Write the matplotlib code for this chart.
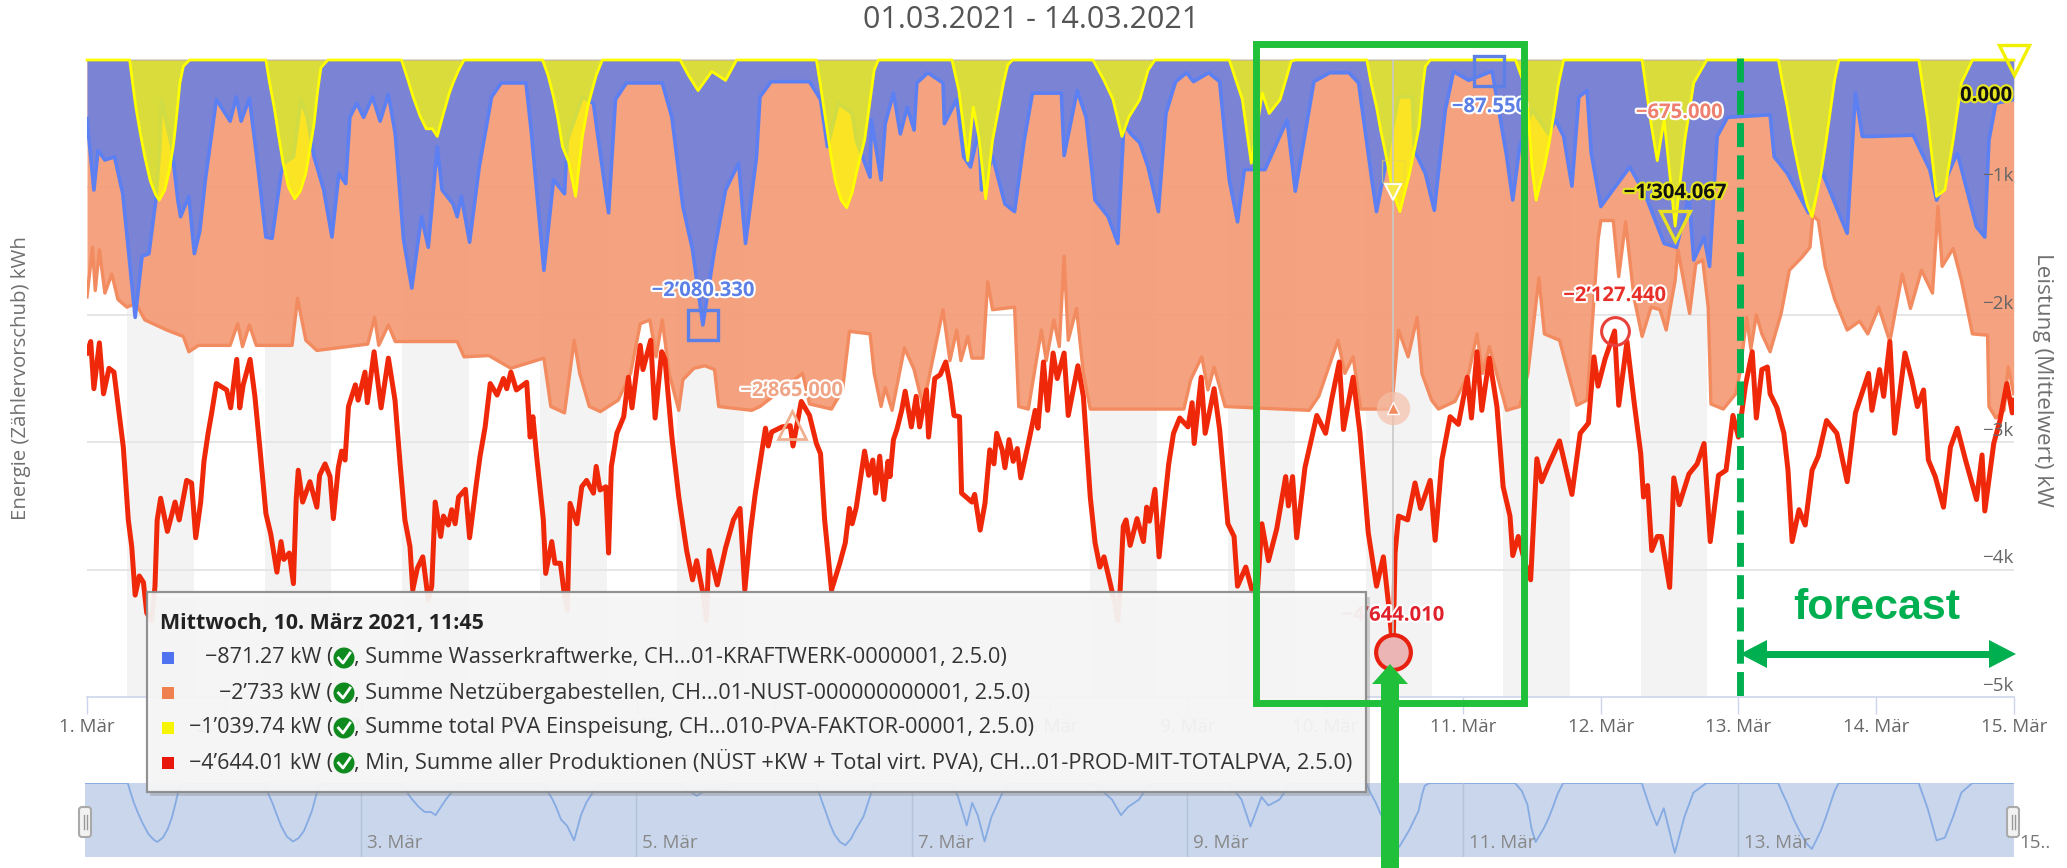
import numpy as np
import matplotlib
matplotlib.use("Agg")
import matplotlib.pyplot as plt
from matplotlib.patches import Rectangle, FancyBboxPatch, Circle, Polygon
import matplotlib.patheffects as pe

W, H = 2067, 868
FONT = "Open Sans"
plt.rcParams["font.family"] = [FONT, "DejaVu Sans"]

# ---------- data (days since 1 March, magnitudes in thousands of kW; plotted negative) ----------
red_days = [0,.027,.05,.09,.12,.16,.196,.228,.264,.30,.325,.35,.38,.41,.434,.47,.494,.51,.535,.584,.64,.67,.724,.76,.79,.826,.85,.88,.906,.94,1.015,1.044,1.088,1.11,1.135,1.185,1.22,1.26,1.30,1.335,1.38,1.41,1.43,1.47,1.50,1.52,1.535,1.567,1.62,1.67,1.69,1.73,1.766,1.79,1.826,1.85,1.875,1.90,1.95,1.97,2.02,2.037,2.086,2.137,2.19,2.238,2.275,2.31,2.347,2.367,2.40,2.44,2.48,2.505,2.53,2.57,2.59,2.625,2.65,2.675,2.70,2.75,2.78,2.83,2.856,2.893,2.93,2.98,3.026,3.05,3.08,3.12,3.195,3.22,3.24,3.27,3.316,3.333,3.377,3.40,3.44,3.47,3.49,3.51,3.56,3.595,3.63,3.68,3.70,3.728,3.77,3.79,3.81,3.85,3.90,3.934,3.96,3.995,4.02,4.04,4.096,4.128,4.176,4.20,4.25,4.30,4.357,4.40,4.43,4.48,4.50,4.52,4.58,4.64,4.697,4.745,4.78,4.82,4.855,4.93,4.95,4.975,5.05,5.11,5.13,5.19,5.25,5.30,5.33,5.36,5.41,5.47,5.51,5.54,5.56,5.59,5.65,5.68,5.71,5.73,5.76,5.79,5.82,5.835,5.86,5.885,5.92,5.945,5.99,6.025,6.05,6.10,6.115,6.16,6.20,6.24,6.27,6.30,6.34,6.355,6.43,6.45,6.49,6.525,6.56,6.59,6.61,6.65,6.67,6.70,6.73,6.76,6.785,6.84,6.89,6.91,6.95,6.98,7.02,7.05,7.10,7.13,7.20,7.24,7.29,7.325,7.36,7.39,7.435,7.47,7.49,7.507,7.53,7.55,7.58,7.63,7.676,7.70,7.72,7.76,7.79,7.82,7.86,7.895,7.94,8.00,8.03,8.045,8.096,8.125,8.19,8.23,8.29,8.335,8.36,8.42,8.465,8.50,8.537,8.585,8.645,8.71,8.73,8.76,8.79,8.85,8.90,8.936,9.00,9.045,9.10,9.13,9.20,9.25,9.31,9.37,9.42,9.46,9.49,9.505,9.53,9.596,9.65,9.69,9.76,9.796,9.845,9.905,9.965,10.03,10.06,10.10,10.135,10.19,10.245,10.29,10.34,10.36,10.40,10.45,10.49,10.535,10.57,10.62,10.70,10.79,10.85,10.91,10.95,10.98,11.03,11.10,11.13,11.19,11.24,11.29,11.31,11.34,11.37,11.41,11.44,11.50,11.53,11.57,11.64,11.70,11.75,11.795,11.855,11.91,11.96,12.00,12.05,12.10,12.13,12.17,12.21,12.23,12.28,12.33,12.36,12.39,12.44,12.485,12.535,12.58,12.64,12.715,12.79,12.85,12.945,12.97,13.025,13.055,13.10,13.135,13.21,13.26,13.30,13.345,13.38,13.43,13.49,13.54,13.59,13.65,13.73,13.77,13.79,13.855,13.90,13.95,13.99,14.0]
red_k = [2.30,2.21,2.58,2.22,2.62,2.42,2.45,2.73,3.04,3.61,3.82,4.20,4.05,4.10,4.34,4.40,4.13,3.61,3.44,3.70,3.47,3.61,3.30,3.32,3.75,3.47,3.15,2.93,2.77,2.54,2.59,2.73,2.35,2.73,2.55,2.35,2.64,3.09,3.56,3.72,4.02,3.78,3.92,3.87,4.11,3.45,3.22,3.47,3.31,3.51,3.26,3.17,3.27,3.60,3.20,3.07,3.14,2.72,2.55,2.67,2.45,2.69,2.29,2.73,2.34,2.67,3.17,3.61,3.82,4.16,3.99,3.90,4.24,4.13,3.47,3.74,3.58,3.65,3.53,3.64,3.43,3.37,3.75,3.32,3.11,2.88,2.54,2.63,2.50,2.58,2.45,2.59,2.53,2.96,2.80,3.14,3.61,4.03,3.78,3.95,3.95,4.21,4.32,3.48,3.64,3.35,3.30,3.40,3.19,3.375,3.35,3.87,3.19,2.93,2.80,2.49,2.73,2.43,2.24,2.43,2.20,2.81,2.29,2.35,2.96,3.43,3.85,4.08,3.93,4.21,4.40,3.85,4.12,3.83,3.61,3.52,4.16,3.71,3.41,2.89,3.03,2.92,2.88,2.87,3.03,2.68,2.79,3.01,3.09,3.61,4.16,3.95,3.79,3.52,3.64,3.51,3.07,3.26,3.14,3.40,3.11,3.45,3.15,3.27,2.98,2.90,2.75,2.60,2.88,2.64,2.88,2.59,2.96,2.50,2.47,2.37,2.54,2.79,2.80,3.40,3.47,3.41,3.69,3.48,3.06,3.17,2.93,3.06,3.20,2.98,3.15,3.05,3.28,3.01,2.75,2.89,2.37,2.75,2.30,2.50,2.30,2.79,2.40,2.64,3.43,3.79,3.98,3.90,4.11,4.27,4.40,4.16,3.66,3.61,3.81,3.60,3.78,3.51,3.62,3.37,3.90,3.58,3.17,2.93,2.81,2.88,2.69,3.01,2.49,2.93,2.58,2.90,3.64,3.74,4.13,3.98,4.16,4.25,3.64,3.93,3.68,3.27,3.50,3.27,3.75,3.20,2.96,2.79,2.93,2.66,2.37,2.90,2.49,2.93,3.71,4.13,3.90,4.30,4.644,3.87,3.58,3.61,3.32,3.52,3.30,3.77,3.14,2.80,2.86,2.49,2.81,2.29,2.75,2.34,2.72,3.35,3.58,3.89,3.74,3.95,4.08,3.13,3.31,3.18,2.99,3.41,2.93,2.85,2.33,2.56,2.35,2.127,2.71,2.21,2.67,3.09,3.43,3.34,3.85,3.74,3.74,4.14,3.28,3.49,3.25,3.17,3.01,3.78,3.26,3.22,2.79,2.96,2.56,2.29,2.81,2.43,2.41,2.62,2.73,2.93,3.22,3.78,3.53,3.65,3.22,3.11,2.83,2.93,3.31,2.77,2.46,2.75,2.43,2.64,2.21,2.93,2.30,2.51,2.72,2.59,3.14,3.27,3.51,3.04,2.89,3.14,3.45,3.10,3.54,3.01,2.83,2.54,2.77,2.67]

orange_days = [0,.04,.06,.09,.13,.18,.225,.29,.355,.42,.58,.70,.74,.81,1.04,1.095,1.13,1.18,1.23,1.49,1.53,1.59,1.67,2.04,2.09,2.12,2.19,2.24,2.69,2.74,2.92,3.08,3.32,3.37,3.47,3.54,3.58,3.65,3.73,3.86,3.95,4.02,4.09,4.135,4.18,4.23,4.30,4.33,4.41,4.49,4.56,4.59,4.83,4.89,5.20,5.25,5.41,5.49,5.54,5.69,5.72,5.77,5.80,5.85,5.94,6.01,6.075,6.22,6.27,6.32,6.35,6.40,6.43,6.51,6.545,6.58,6.74,6.77,6.84,6.935,6.97,7.025,7.065,7.10,7.13,7.19,7.24,7.29,7.97,8.02,8.10,8.145,8.19,8.27,8.88,8.95,9.09,9.14,9.20,9.255,9.48,9.53,9.60,9.665,9.70,9.77,9.82,9.94,10.04,10.10,10.14,10.19,10.315,10.41,10.47,10.55,10.59,10.70,10.825,10.90,10.98,11.0,11.09,11.13,11.18,11.24,11.30,11.365,11.43,11.475,11.54,11.56,11.645,11.69,11.74,11.78,11.80,11.89,11.98,12.01,12.06,12.09,12.13,12.17,12.23,12.31,12.37,12.46,12.52,12.54,12.58,12.63,12.70,12.79,12.88,12.94,13.02,13.10,13.19,13.25,13.33,13.41,13.45,13.48,13.56,13.62,13.70,13.81,13.82,13.87,13.93,13.96,14.0]
orange_k = [1.86,1.47,1.81,1.49,1.83,1.68,1.88,1.94,1.91,2.04,2.12,2.17,2.29,2.24,2.24,2.07,2.25,2.08,2.24,2.24,1.87,2.20,2.28,2.23,2.02,2.24,2.08,2.21,2.21,2.33,2.32,2.42,2.34,2.72,2.77,2.20,2.46,2.72,2.76,2.67,2.46,2.07,2.04,2.33,2.04,2.46,2.75,2.51,2.42,2.40,2.43,2.72,2.75,2.72,2.46,2.70,2.74,2.59,2.13,2.15,2.46,2.72,2.57,2.75,2.26,2.43,2.72,1.96,2.36,2.12,2.36,2.17,2.34,2.34,1.74,1.96,1.94,2.72,2.74,2.12,2.36,2.04,2.25,1.54,2.20,1.95,2.46,2.74,2.74,2.51,2.33,2.59,2.41,2.72,2.75,2.64,2.20,2.46,2.33,2.74,2.74,2.12,2.33,2.02,2.46,2.67,2.74,2.68,2.46,2.15,2.46,2.25,2.75,2.72,2.46,1.71,2.15,2.20,2.71,2.67,1.41,1.26,1.26,1.70,1.27,1.86,2.17,1.94,1.96,2.12,1.73,1.49,1.99,1.60,1.57,1.94,2.70,2.74,2.62,2.46,2.02,2.27,2.00,2.15,2.29,1.99,1.65,1.55,1.47,1.22,1.26,1.62,1.88,2.12,2.05,2.15,1.94,2.21,1.68,1.95,1.65,1.83,1.15,1.62,1.48,1.73,2.15,2.16,2.72,2.81,2.75,2.41,2.62]

blue_days = [0,.05,.08,.13,.20,.26,.35,.40,.45,.50,.53,.54,.615,.66,.68,.74,.78,.82,.86,.94,1.04,1.085,1.12,1.18,1.23,1.30,1.345,1.41,1.43,1.50,1.555,1.60,1.65,1.72,1.78,1.83,1.88,1.91,1.96,2.01,2.075,2.13,2.19,2.24,2.30,2.36,2.43,2.48,2.545,2.58,2.66,2.69,2.72,2.78,2.85,2.94,3.01,3.19,3.23,3.32,3.39,3.47,3.49,3.60,3.68,3.71,3.79,3.84,3.92,4.18,4.25,4.33,4.40,4.475,4.56,4.64,4.735,4.785,4.865,4.89,4.97,5.25,5.33,5.38,5.46,5.56,5.59,5.69,5.70,5.77,5.80,5.86,5.91,5.96,6.01,6.03,6.11,6.22,6.23,6.32,6.37,6.42,6.48,6.50,6.58,6.67,6.74,6.81,6.87,7.08,7.10,7.195,7.26,7.325,7.42,7.49,7.535,7.585,7.65,7.71,7.785,7.84,7.91,7.99,8.04,8.15,8.23,8.30,8.36,8.41,8.56,8.72,8.78,8.915,9.03,9.17,9.24,9.34,9.37,9.53,9.63,9.645,9.725,9.79,9.87,9.93,10.04,10.21,10.315,10.36,10.41,10.50,10.62,10.67,10.73,10.79,10.84,10.90,10.93,11.0,11.21,11.32,11.46,11.55,11.64,11.675,11.75,11.79,11.845,11.92,12.23,12.26,12.355,12.51,12.60,12.79,12.85,12.90,12.97,13.27,13.39,13.44,13.59,13.73,13.79,13.82,13.87,14.0]
blue_k = [.46,1.02,.71,.785,.76,1.05,2.02,1.54,1.52,1.10,.68,.31,.68,1.10,1.23,1.07,1.52,1.34,.94,.31,.48,.29,.48,.30,.73,1.39,1.40,.89,.81,.76,.31,.45,.76,1.02,1.39,.89,.97,.45,.34,.45,.29,.48,.27,.58,1.41,1.79,1.23,1.47,.68,1.02,1.13,1.23,1.07,1.43,.84,.29,.18,.18,.58,1.65,.94,1.05,.63,.29,.34,.58,1.20,.31,.18,.18,.45,1.15,1.49,2.08,1.49,1.02,.81,1.44,.76,.29,.17,.17,.31,.68,.34,.42,.63,.92,.47,.94,.50,.26,.58,.37,.55,.18,.10,.18,.50,.31,.76,.84,.55,1.02,.76,1.13,1.19,.63,.26,.26,.75,.24,.45,1.10,1.23,1.44,.50,.58,.65,.84,1.19,.42,.17,.10,.17,.10,.17,.94,1.27,.86,.86,.47,1.03,.17,.10,.10,.18,.97,1.19,.29,.29,.71,.89,1.18,.39,.09,.16,.0875,.75,1.10,.68,.39,.58,.47,.60,.99,.29,.24,.73,1.15,.84,1.05,1.44,1.47,1.07,1.57,1.39,1.62,.60,.45,.43,.76,.89,1.20,.86,1.36,.26,.60,.60,.59,.86,1.10,.73,1.31,1.39,.63,.34,.31]

yellow_days = [0,.31,.33,.355,.388,.42,.46,.50,.525,.565,.60,.63,.655,.675,.70,.745,
               1.30,1.325,1.36,1.39,1.425,1.465,1.51,1.55,1.59,1.62,1.65,1.675,1.70,1.75,
               2.285,2.33,2.37,2.42,2.465,2.51,2.545,2.57,2.59,2.63,2.66,2.70,2.74,
               3.31,3.35,3.39,3.42,3.455,3.50,3.55,3.60,3.64,3.665,3.70,3.745,
               4.31,4.37,4.44,4.54,4.64,4.72,
               5.30,5.33,5.38,5.41,5.44,5.48,5.52,5.56,5.59,5.62,5.65,5.69,5.72,5.75,
               6.285,6.335,6.40,6.44,6.48,6.53,6.58,6.66,6.69,6.725,
               7.31,7.39,7.455,7.52,7.57,7.65,7.71,7.76,
               8.30,8.395,8.46,8.54,8.59,8.67,8.75,8.78,
               9.30,9.33,9.37,9.40,9.435,9.49,9.54,9.58,9.61,9.65,9.68,9.705,9.725,9.76,
               10.38,10.43,10.47,10.50,10.53,10.59,10.625,10.655,10.69,10.73,
               11.30,11.365,11.41,11.46,11.54,11.61,11.675,11.77,
               12.29,12.32,12.355,12.40,12.45,12.50,12.535,12.57,12.60,12.635,12.665,12.70,12.73,
               13.31,13.375,13.44,13.50,13.56,13.62,13.70,14.0]
yellow_k = [0,0,.17,.37,.58,.76,.95,1.06,1.10,1.02,.86,.65,.40,.18,.05,0,
            0,.17,.37,.58,.81,1.0,1.09,1.03,.89,.70,.50,.25,.06,0,
            0,.15,.29,.44,.54,.54,.60,.50,.42,.27,.18,.08,0,
            0,.12,.29,.45,.68,.80,1.07,.60,.36,.26,.12,0,
            0,.12,.24,.09,.16,0,
            0,.2,.56,.78,.96,1.10,1.16,1.04,.89,.76,.63,.32,.08,0,
            0,.24,.79,.37,.60,1.09,.63,.18,.04,0,
            0,.16,.31,.60,.45,.31,.08,0,
            0,.31,.81,.26,.42,.31,.01,0,
            0,.18,.37,.55,.73,1.04,1.19,1.02,.89,.68,.52,.22,.05,0,
            0,.15,.40,.85,1.10,.84,.65,.45,.2,0,
            0,.50,.79,.47,1.304,.63,.18,0,
            0,.18,.37,.66,.92,1.14,1.23,1.05,.89,.65,.42,.15,0,
            0,.47,1.07,1.02,.63,.18,0,0]

band_days = [0, 1, 2, 3, 4, 7, 8, 9, 10, 11]
x_tick_labels = ["1. Mär","2. Mär","3. Mär","4. Mär","5. Mär","6. Mär","7. Mär","8. Mär","9. Mär","10. Mär","11. Mär","12. Mär","13. Mär","14. Mär","15. Mär"]
nav_labels = {2:"3. Mär",4:"5. Mär",6:"7. Mär",8:"9. Mär",10:"11. Mär",12:"13. Mär",14:"15.."}
y_labels = {1:"−1k",2:"−2k",3:"−3k",4:"−4k",5:"−5k"}
tooltip_title = "Mittwoch, 10. März 2021, 11:45"
tooltip_vals = ["−871.27 kW (","−2’733 kW (","−1’039.74 kW (","−4’644.01 kW ("]
tooltip_names = [", Summe Wasserkraftwerke, CH...01-KRAFTWERK-0000001, 2.5.0)",
                 ", Summe Netzübergabestellen, CH...01-NUST-000000000001, 2.5.0)",
                 ", Summe total PVA Einspeisung, CH...010-PVA-FAKTOR-00001, 2.5.0)",
                 ", Min, Summe aller Produktionen (NÜST +KW + Total virt. PVA), CH...01-PROD-MIT-TOTALPVA, 2.5.0)"]
tooltip_colors = ["#4E72F0","#F08050","#F5F500","#E8170C"]

neg = lambda s: -np.array(s, dtype=float)
C_BLUE, C_ORANGE, C_RED, C_YEL = "#5C80F2", "#F38B60", "#F0280A", "#FFFF00"
C_GREEN, C_DGREEN = "#20C03A", "#00B050"

fig = plt.figure(figsize=(W/100, H/100), dpi=100, facecolor="white")
L, R, T, B = 87.0, 2013.7, 60.0, 697.0
ax = fig.add_axes([L/W, (H-B)/H, (R-L)/W, (B-T)/H], zorder=2)
ax.set_xlim(0, 14); ax.set_ylim(-5, 0)
ax.set_facecolor("none")
for s in ["top", "left", "right"]:
    ax.spines[s].set_visible(False)
ax.spines["bottom"].set_color("#CCD6EB"); ax.spines["bottom"].set_linewidth(1.2)

for d in band_days:
    ax.axvspan(d+.29, d+.775, color="#F3F3F3", lw=0, zorder=0)
for v in range(1, 5):
    ax.axhline(-v, color="#E6E6E6", lw=1.4, zorder=0.5)
ax.axhline(0, color="#D8D8D8", lw=2, zorder=0.5, clip_on=False)

ax.fill_between(orange_days, 0, neg(orange_k), color="#F49A74", alpha=.92, lw=0, zorder=1)
ax.plot(orange_days, neg(orange_k), color=C_ORANGE, lw=2.4, zorder=1.1)
ax.fill_between(blue_days, 0, neg(blue_k), color="#7B83D5", lw=0, zorder=1.2)
ax.plot(blue_days, neg(blue_k), color=C_BLUE, lw=2.6, zorder=1.3)
ax.fill_between(yellow_days, 0, neg(yellow_k), color=C_YEL, alpha=.72, lw=0, zorder=1.4)
ax.plot(yellow_days, neg(yellow_k), color=C_YEL, lw=2.0, zorder=1.5, clip_on=False)
ax.plot(red_days, neg(red_k), color=C_RED, lw=3.6, zorder=2, solid_joinstyle="round")

ax.set_xticks(range(15)); ax.set_xticklabels(x_tick_labels)
ax.tick_params(axis="x", length=12, width=1, color="#CCD6EB", labelcolor="#666666", labelsize=13.5, pad=3)
ax.set_yticks([])
for v, t in y_labels.items():
    ax.annotate(t, (14, -v), xytext=(0, 8), textcoords="offset points", ha="right", va="center",
                color="#666666", fontsize=13.5, zorder=3)

# highlight flags
def halo(col, lw=3):
    return [pe.withStroke(linewidth=lw, foreground=col)]
ms = dict(ls="none", clip_on=False, zorder=4)
ax.plot([4.477], [-2.08033], marker="s", ms=21, mfc="none", mec="#5C80E6", mew=2.4, **ms)
ax.plot([10.19], [-.08755], marker="s", ms=21, mfc="none", mec="#5C80E6", mew=2.4, **ms)
ax.plot([5.12], [-2.865], marker="^", ms=20, mfc="none", mec="#F0B090", mew=2, **ms)
ax.plot([11.1], [-2.12744], marker="o", ms=20, mfc="none", mec="#E8403A", mew=2.2, **ms)
ax.plot([11.54], [-1.304067], marker="v", ms=22, mfc="none", mec="#E8E020", mew=2.4, **ms)
ax.plot([14], [0], marker="v", ms=22, mfc="none", mec="#F0F000", mew=2.4, **ms)
ax.axvline(9.49, color="#C8C8C8", lw=1.2, zorder=2.5)
ax.plot([9.49], [-2.733], marker="o", ms=24, mfc="#F5BFA8", mec="none", alpha=.7, **ms)
ax.plot([9.49], [-2.733], marker="^", ms=8, mfc="#F38B60", mec="white", mew=1, **ms)
ax.plot([9.49], [-1.03974], marker="v", ms=11, mfc="#F5E84A", mec="white", mew=1.5, **ms)
ax.plot([9.49], [-.87127], marker="s", ms=16, mfc="none", mec="#E8D850", mew=1, alpha=.6, **ms)
ax.plot([9.49], [-4.64401], marker="o", ms=25, mfc="#EBB5B5", mec="#E8200F", mew=3, **ms)

def flag(d, v, dy, txt, col, hc="white", fs=14.6):
    ax.annotate(txt, (d, v), xytext=(0, dy), textcoords="offset pixels", ha="center", va="center",
                color=col, fontsize=fs, fontweight="bold", zorder=5, annotation_clip=False,
                path_effects=halo(hc))
flag(4.477, -2.08033, 34, "−2’080.330", "#5C80E6")
flag(10.19, -.08755, -36, "−87.550", "#5C80E6")
flag(5.12, -2.865, 34, "−2’865.000", "#EFA688")
flag(11.1, -2.12744, 35, "−2’127.440", "#E8302A")
flag(11.54, -1.304067, 33, "−1’304.067", "#111111", "#E6E620")
flag(11.57, -.675, 33, "−675.000", "#EE8070")
flag(13.8, 0, -36, "0.000", "#111111", "#E6E620")
flag(9.49, -4.64401, 36, "−4’644.010", "#E0202A")

# axis titles
fig.text(21/W, 1-378/H, "Energie (Zählervorschub) kWh", rotation=90, ha="center", va="center",
         color="#707070", fontsize=14.7)
fig.text(2042/W, 1-380/H, "Leistung (Mittelwert) kW", rotation=270, ha="center", va="center",
         color="#707070", fontsize=16.2)
fig.text(1031/W, 1-20/H, "01.03.2021 - 14.03.2021", ha="center", va="center", color="#555555", fontsize=22)

# navigator
nav = fig.add_axes([85/W, (H-857)/H, (R-85)/W, 74/H], zorder=1)
nav.set_xlim(0, 14); nav.set_ylim(-1.38, 0)
nav.set_facecolor("#C9D6EC")
for s in nav.spines.values():
    s.set_visible(False)
nav.set_xticks([]); nav.set_yticks([])
nav.plot(yellow_days, neg(yellow_k), color="#86ABE2", lw=1.3)
for d, t in nav_labels.items():
    if d < 14:
        nav.axvline(d, color="#B4C2DA", lw=1)
    nav.annotate(t, (d, -1.38), xytext=(6, 14), textcoords="offset pixels", ha="left", va="center",
                 color="#888888" if d < 14 else "#777777", fontsize=13.5, annotation_clip=False)

# overlay in pixel space: navigator handles, tooltip, green annotations
ov = fig.add_axes([0, 0, 1, 1], zorder=10)
ov.set_xlim(0, W); ov.set_ylim(H, 0); ov.axis("off")
for hx in (85, 2013):
    ov.add_patch(FancyBboxPatch((hx-6, 807), 12, 30, boxstyle="round,pad=0,rounding_size=3",
                                fc="#F2F2F2", ec="#AAAAAA", lw=1.5))
    ov.plot([hx-1.5, hx-1.5], [815, 829], color="#999999", lw=1)
    ov.plot([hx+1.5, hx+1.5], [815, 829], color="#999999", lw=1)

ov.add_patch(Rectangle((150, 597), 1220, 199, fc="#888888", alpha=.35, lw=0))
ov.add_patch(Rectangle((147, 592), 1219, 200, fc="#F8F8F8", ec="#8A8A8A", lw=1.6, alpha=.93))
ov.text(160, 623, tooltip_title, fontsize=15.4, fontweight="bold", color="#222222", va="center")
for i, (v, n, c) in enumerate(zip(tooltip_vals, tooltip_names, tooltip_colors)):
    y = 658 + i*35
    ov.add_patch(Rectangle((162, y-6), 12, 12, fc=c, lw=0))
    ov.text(333, y, v, fontsize=15.5, color="#333333", ha="right", va="center")
    ov.add_patch(Circle((344, y), 10.5, fc="#0F8A1E", lw=0))
    ov.plot([338.5, 343, 350], [y, y+5, y-5], color="white", lw=2)
    ov.text(354, y, n, fontsize=15.7, color="#333333", ha="left", va="center")

# green annotation box, arrow, forecast marker
ov.add_patch(Rectangle((1256, 44), 268, 659, fc="none", ec=C_GREEN, lw=5))
ov.add_patch(Rectangle((1381, 683), 18, 185, fc=C_GREEN, lw=0))
ov.add_patch(Polygon([(1390, 664), (1372, 684), (1408, 684)], fc=C_GREEN, lw=0))
ov.plot([1740, 1740], [58, 702], color=C_DGREEN, lw=5, dashes=(3.45, 1.2))
ov.add_patch(Rectangle((1762, 650.5), 230, 7, fc=C_DGREEN, lw=0))
ov.add_patch(Polygon([(1740, 654), (1767, 640), (1767, 668)], fc=C_DGREEN, lw=0))
ov.add_patch(Polygon([(2016, 654), (1989, 640), (1989, 668)], fc=C_DGREEN, lw=0))
ov.text(1877, 608, "forecast", color=C_DGREEN, fontsize=31, fontweight="bold",
        family="Liberation Sans", ha="center", va="center")

fig.savefig("out.png", dpi=100, facecolor="white")
